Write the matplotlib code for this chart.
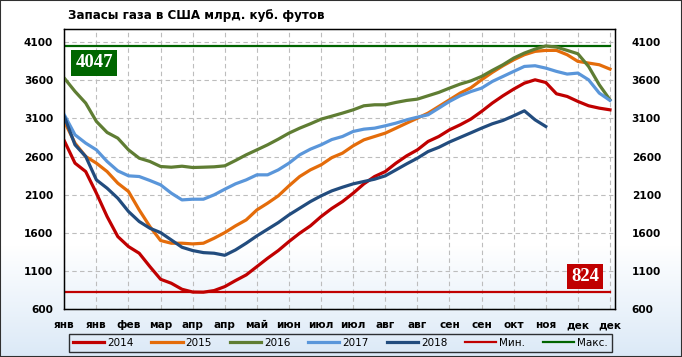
#!/usr/bin/env python3

"""
Запасы газа в США по неделям, 2014-2018, с линиями минимума и максимума.
"""

import numpy as np
from matplotlib import pyplot as plt
from matplotlib.patches import Rectangle
from matplotlib.colors import to_rgb

# Weekly storage, bcf
weeks = list(range(52))
month_labels = ['янв', 'янв', 'фев', 'мар', 'апр', 'апр', 'май', 'июн', 'июл',
                'июл', 'авг', 'авг', 'сен', 'сен', 'окт', 'ноя', 'дек', 'дек']

s2014 = [2805, 2513, 2403, 2120, 1814, 1552, 1421, 1334, 1159, 993, 941, 862,
         826, 824, 845, 897, 976, 1050, 1159, 1268, 1369, 1487, 1596, 1692,
         1814, 1920, 2010, 2120, 2242, 2338, 2403, 2513, 2609, 2687, 2797, 2862,
         2949, 3015, 3090, 3190, 3299, 3395, 3482, 3560, 3604, 3569, 3421, 3386,
         3321, 3264, 3233, 3211]
s2015 = [3059, 2775, 2600, 2513, 2403, 2251, 2142, 1901, 1683, 1500, 1465, 1465,
         1456, 1465, 1530, 1604, 1692, 1770, 1901, 1989, 2085, 2216, 2338, 2425,
         2491, 2585, 2644, 2740, 2818, 2862, 2906, 2971, 3037, 3102, 3168, 3255,
         3342, 3430, 3500, 3604, 3701, 3788, 3866, 3932, 3976, 3989, 3989, 3932,
         3845, 3823, 3801, 3744]
s2016 = [3626, 3452, 3299, 3059, 2915, 2840, 2687, 2578, 2535, 2469, 2460, 2473,
         2456, 2460, 2465, 2478, 2548, 2622, 2687, 2753, 2827, 2906, 2971, 3028,
         3089, 3128, 3168, 3211, 3264, 3277, 3277, 3308, 3334, 3351, 3395, 3439,
         3495, 3548, 3590, 3648, 3727, 3801, 3888, 3954, 4006, 4047, 4032, 3989,
         3945, 3779, 3539, 3342]
s2017 = [3146, 2884, 2775, 2687, 2535, 2412, 2347, 2338, 2286, 2229, 2120, 2032,
         2041, 2041, 2098, 2172, 2242, 2294, 2360, 2360, 2425, 2513, 2622, 2696,
         2753, 2822, 2862, 2928, 2958, 2971, 3002, 3037, 3080, 3115, 3146, 3233,
         3321, 3395, 3450, 3495, 3582, 3648, 3714, 3779, 3788, 3757, 3714, 3679,
         3692, 3604, 3430, 3334]
s2018 = [3124, 2753, 2600, 2294, 2185, 2054, 1880, 1749, 1661, 1604, 1508, 1412,
         1369, 1342, 1334, 1307, 1377, 1465, 1561, 1648, 1735, 1836, 1923, 2010,
         2085, 2150, 2198, 2242, 2273, 2303, 2347, 2425, 2504, 2578, 2665, 2720,
         2790, 2850, 2910, 2971, 3028, 3072, 3133, 3198, 3080, 2993]
min_val = 824
max_val = 4047

y_ticks = [600, 1100, 1600, 2100, 2600, 3100, 3600, 4100]


def main():
    fig = plt.figure(figsize=(6.82, 3.57), dpi=100)

    ## background gradient (white -> light blue at the bottom)
    bg = fig.add_axes([0, 0, 1, 1], zorder=-1)
    h = 357
    top_c = np.array(to_rgb('#ffffff'))
    bot_c = np.array(to_rgb('#dbe9f7'))
    t = np.clip((np.arange(h) - 245) / (h - 245), 0, 1)[:, None]
    grad = top_c * (1 - t) + bot_c * t
    bg.imshow(grad[:, None, :], aspect='auto', extent=[0, 1, 0, 1])
    bg.axis('off')

    ax = fig.add_axes([64.3/682, 1 - 309.3/357, (615 - 64.3)/682, 280/357])
    ax.set_facecolor('none')

    ax.plot(weeks, s2014, color='#c00000', lw=2.3, label='2014', zorder=3)
    ax.plot(weeks, s2015, color='#e46c0a', lw=2.3, label='2015', zorder=3)
    ax.plot(weeks, s2016, color='#5f7d33', lw=2.3, label='2016', zorder=3)
    ax.plot(weeks, s2017, color='#5a96da', lw=2.3, label='2017', zorder=3)
    ax.plot(weeks[:len(s2018)], s2018, color='#224c7e', lw=2.3, label='2018', zorder=3)
    ax.plot(weeks, [min_val]*len(weeks), color='#c00000', lw=1.6, label='Мин.', zorder=2)
    ax.plot(weeks, [max_val]*len(weeks), color='#006400', lw=1.6, label='Макс.', zorder=2)

    ax.set_xlim(0, 51.47)
    ax.set_ylim(600, 4265)
    ax.set_yticks(y_ticks)
    ax.set_xticks(weeks[::3])
    ax.set_xticklabels(month_labels)
    ax.grid(True, color='#bdbdbd', ls=(0, (4, 3)), lw=0.8)
    ax.set_axisbelow(True)
    ax.tick_params(length=0, labelsize=7.6, pad=8)
    for lab in ax.get_xticklabels() + ax.get_yticklabels():
        lab.set_fontweight('bold')
    for s in ax.spines.values():
        s.set_color('black')
        s.set_linewidth(1.0)

    ## right hand axis
    ax2 = ax.twinx()
    ax2.set_ylim(ax.get_ylim())
    ax2.set_yticks(y_ticks)
    ax2.tick_params(length=0, labelsize=7.6, pad=12)
    for lab in ax2.get_yticklabels():
        lab.set_fontweight('bold')

    ## value boxes
    ax.text(2.8, 3824, str(max_val), color='white', fontsize=13.5, fontweight='bold',
            family='Liberation Serif', ha='center', va='center', zorder=5,
            bbox=dict(boxstyle='square,pad=0.22', fc='#006600', ec='none'))
    ax.text(48.7, 1029, str(min_val), color='white', fontsize=13.5, fontweight='bold',
            family='Liberation Serif', ha='center', va='center', zorder=5,
            bbox=dict(boxstyle='square,pad=0.22', fc='#c00000', ec='none'))

    fig.text(68/682, 1 - 15/357, 'Запасы газа в США млрд. куб. футов',
             fontsize=8.6, fontweight='bold', ha='left', va='center')

    leg = fig.legend(loc='center', ncol=7, mode='expand', fontsize=7.5,
                     bbox_to_anchor=(64/682, 1 - 353/357, (617 - 64)/682, 20/357),
                     frameon=True, fancybox=False, handlelength=3.0,
                     handletextpad=0.3, borderpad=0.35, columnspacing=1.0)
    leg.get_frame().set_edgecolor('black')
    leg.get_frame().set_linewidth(1.0)
    leg.get_frame().set_facecolor('none')

    fig.patches.append(Rectangle((0, 0), 1, 1, transform=fig.transFigure, fill=False,
                                 edgecolor='#303030', lw=1.5))

    fig.savefig('out.png', dpi=100)


if __name__ == "__main__":
    main()
